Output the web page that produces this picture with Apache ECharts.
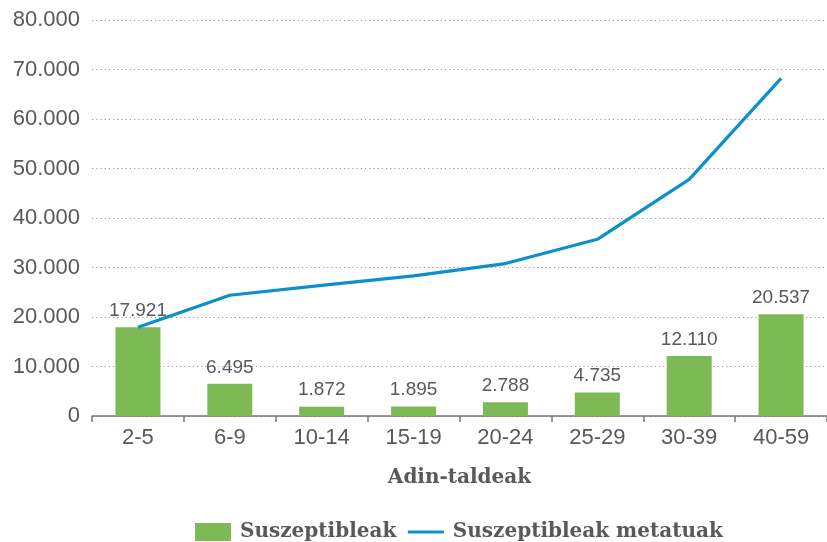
<!DOCTYPE html>
<html>
<head>
<meta charset="utf-8">
<script src="https://cdn.jsdelivr.net/npm/echarts@6/dist/echarts.min.js"></script>
<style>
  html, body { margin: 0; padding: 0; background: #ffffff; }
  #chart { width: 827px; height: 542px; }
</style>
</head>
<body>
<div id="chart"></div>
<script>
// Age groups on the x axis
const ageGroups = ['2-5', '6-9', '10-14', '15-19', '20-24', '25-29', '30-39', '40-59'];
// Susceptible people per age group (bars)
const susceptible = [17921, 6495, 1872, 1895, 2788, 4735, 12110, 20537];
// Cumulative susceptible people (line)
const susceptibleCumulative = [17921, 24400, 26400, 28300, 30800, 35700, 47800, 68200];
// Value axis ticks
const yTicks = [0, 10000, 20000, 30000, 40000, 50000, 60000, 70000, 80000];

const fmt = v => v === 0 ? '0' : String(v).replace(/\B(?=(\d{3})+(?!\d))/g, '.');

const textGray = '#595959';
const sans = '"Liberation Sans", Arial, sans-serif';
const serif = '"DejaVu Serif", serif';

const chart = echarts.init(document.getElementById('chart'), null, { renderer: 'canvas' });
chart.setOption({
  animation: false,
  backgroundColor: '#ffffff',
  grid: { left: 92, right: -1, top: 20, bottom: 126, containLabel: false },
  legend: {
    bottom: -5,
    left: 190,
    itemWidth: 36,
    itemHeight: 18,
    itemGap: 10,
    textStyle: { fontFamily: serif, fontWeight: 'bold', fontSize: 20, color: textGray, padding: [0, 0, 0, 4] },
    data: [
      { name: 'Suszeptibleak', icon: 'rect' },
      { name: 'Suszeptibleak metatuak', itemStyle: { opacity: 0 }, lineStyle: { width: 3.2 } }
    ]
  },
  xAxis: {
    type: 'category',
    data: ageGroups,
    name: 'Adin-taldeak',
    nameLocation: 'middle',
    nameGap: 52,
    nameTextStyle: { fontFamily: serif, fontWeight: 'bold', fontSize: 20, color: textGray },
    axisLine: { lineStyle: { color: '#777777', width: 1.5 } },
    axisTick: { show: true, length: 6, lineStyle: { color: '#777777', width: 1.5 } },
    axisLabel: { fontFamily: sans, fontSize: 22, color: textGray, margin: 11 }
  },
  yAxis: {
    type: 'value',
    min: yTicks[0],
    max: yTicks[yTicks.length - 1],
    interval: yTicks[1] - yTicks[0],
    axisLine: { show: false },
    axisTick: { show: false },
    axisLabel: { fontFamily: sans, fontSize: 22, color: textGray, margin: 12, formatter: fmt },
    splitLine: { lineStyle: { color: '#9a9a9a', width: 1.2, type: [1.2, 3] } }
  },
  series: [
    {
      name: 'Suszeptibleak',
      type: 'bar',
      data: susceptible,
      barWidth: 45,
      itemStyle: { color: '#7db955' },
      label: {
        show: true,
        position: 'top',
        distance: 7,
        fontFamily: sans,
        fontSize: 19,
        color: textGray,
        formatter: p => fmt(p.value)
      },
      z: 2
    },
    {
      name: 'Suszeptibleak metatuak',
      type: 'line',
      data: susceptibleCumulative,
      symbol: 'none',
      lineStyle: { color: '#0c8fcd', width: 3.2 },
      itemStyle: { color: '#0c8fcd' },
      z: 3
    }
  ]
});
</script>
</body>
</html>
